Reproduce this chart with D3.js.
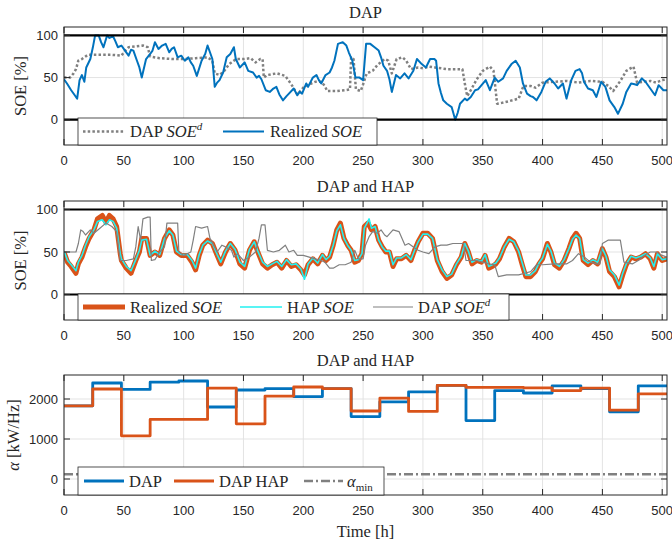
<!DOCTYPE html>
<html>
<head>
<meta charset="utf-8">
<script src="https://cdn.jsdelivr.net/npm/d3@7"></script>
<style>
  body { margin: 0; background: #fff; }
  svg { display: block; }
  .tick-lbl { font-family: "Liberation Sans", Arial, sans-serif; font-size: 13px; fill: #262626; }
  .serif { font-family: "Liberation Serif", "DejaVu Serif", serif; fill: #262626; }
</style>
</head>
<body>
<svg id="chart" width="672" height="542"></svg>
<script>
// hours axis
var xMax = 504;
var xTicks = [0, 50, 100, 150, 200, 250, 300, 350, 400, 450, 500];

// --- panel 1: DAP only, [hour, SOE %]
var dapRealized = [[0,48],[2.5,43],[6,35],[9,29],[11,25],[13,47],[15,53],[17,45],[18.6,62],[22,72],[24,85],[26,100],[29,100],[31,92],[33,86],[36,100],[38,97],[41,99],[43,93],[45,86],[48,88],[51,82],[54,76],[56,83],[58,82],[61,70],[63,62],[65,50],[68.6,72],[72,78],[74,82],[76,92],[79,84],[82,88],[85,90],[88,80],[90,84],[92,86],[95,74],[98,76],[101,70],[104,74],[106,68],[108,64],[111,52],[115,70],[118,78],[120,88],[122,80],[124,72],[126,39],[128,44],[130,47],[133,56],[136,74],[139,78],[142,86],[143.6,72],[147,62],[151,68],[154,58],[158,56],[161,50],[163,52],[165,48],[168.6,35],[172,33],[175,37],[177.5,39],[180,30],[183,23],[186,28],[188,31],[192,37],[195,29],[197,33],[199,31],[202.5,43],[204,39],[208,50],[211,53],[213,47],[215,43],[218.6,53],[222,56],[224,62],[226,70],[229,90],[233,92],[236,88],[238,80],[241,70],[243.6,50],[247,50],[250,47],[252.5,90],[256,90],[259.6,86],[263,82],[265,74],[267,64],[270,58],[272,48],[274,33],[277.5,53],[281,49],[284.6,55],[288,49],[292,58],[295,72],[299,66],[302.5,62],[306,72],[309.6,72],[311,70],[313,43],[315,32],[317,23],[320,19],[324,15],[327,0],[329,8],[331,19],[335,25],[337,23],[340,27],[343.6,35],[346,36],[349,41],[352.5,47],[356,35],[360,50],[363,45],[367,49],[370,58],[374,66],[377.5,70],[381,62],[383.6,43],[387,31],[390,28],[392,27],[395,23],[399,33],[402.5,45],[406,49],[410,43],[413,37],[417,43],[420,25],[424,47],[427.5,58],[431,60],[433,55],[434.6,45],[438,37],[442,35],[445,27],[449,45],[452.5,39],[456,23],[460,15],[463,7],[467,19],[470,33],[474,43],[477,42],[479,41],[483,49],[486,45],[490,37],[494,29],[497,41],[501,35],[504,35]];

var dapSchedule = [[0,50],[5,50],[8,55],[10,60],[12,70],[15,72],[18,75],[20,77],[30,77],[40,77],[48,76],[50,80],[54,86],[60,87],[66,88],[70,86],[72,75],[80,73],[90,72],[100,72],[110,73],[120,74],[124,70],[126,55],[130,53],[134,58],[138,66],[140,68],[144,72],[150,72],[156,73],[160,68],[164,72],[166,72],[167,50],[170,53],[178,55],[185,52],[190,42],[195,30],[200,38],[205,42],[210,45],[215,45],[218,40],[220,34],[228,34],[235,35],[239,36],[240,74],[242,72],[244,36],[248,34],[250,42],[253,55],[258,58],[262,65],[268,72],[271,70],[274,55],[278,72],[283,74],[286,70],[290,60],[296,62],[300,61],[305,63],[310,62],[320,60],[330,60],[333,60],[335,43],[337,28],[340,35],[345,48],[350,58],[356,63],[359,58],[362,19],[366,20],[372,22],[380,25],[384,40],[390,40],[394,38],[400,44],[410,45],[420,46],[430,44],[440,46],[450,45],[455,40],[459,34],[465,46],[470,58],[476,63],[479,44],[485,45],[490,46],[495,44],[500,47],[504,48]];

// --- panel 2: DAP and HAP, [hour, SOE %]
var hapRealized = [[0,50],[3,38],[6,33],[10,25],[12,36],[15,44],[18,56],[21,66],[25,76],[28,89],[32,93],[35,85],[38,93],[41,89],[44,80],[47,48],[48,40],[52,31],[56,25],[60,40],[63,50],[65,66],[69,66],[72,46],[76,50],[80,46],[84,66],[88,76],[91,70],[94,50],[98,46],[103,46],[107,38],[110,29],[113,46],[116,58],[120,64],[124,60],[128,46],[131,36],[135,50],[139,60],[143,52],[147,36],[151,31],[155,52],[159,62],[162,50],[166,36],[170,31],[174,35],[178,38],[182,31],[186,40],[190,33],[194,35],[198,29],[201,23],[204,35],[208,42],[212,36],[216,46],[219,40],[222,44],[225,58],[228,76],[231,84],[234,66],[237,58],[240,52],[243,38],[246,40],[249,48],[251,80],[254,84],[257,76],[260,80],[263,64],[266,56],[269,50],[272,50],[275,33],[278,42],[282,42],[286,46],[290,40],[293,52],[296,62],[300,72],[304,72],[308,66],[312,40],[316,27],[320,19],[324,23],[328,35],[332,44],[335,60],[338,50],[341,36],[345,40],[349,38],[352,46],[355,31],[358,33],[361,36],[364,42],[368,56],[372,66],[376,62],[380,50],[383,35],[386,21],[390,21],[394,27],[397,36],[400,42],[404,60],[407,50],[410,35],[414,31],[418,40],[422,54],[425,66],[428,72],[431,66],[434,40],[438,35],[442,40],[446,36],[450,54],[453,44],[456,27],[460,21],[464,9],[467,23],[470,35],[474,44],[478,42],[482,44],[486,48],[490,42],[493,31],[496,48],[500,40],[504,42]];

var hapPlanned = [[0,51],[3,40],[6,35],[10,28],[12,38],[15,46],[18,58],[21,68],[25,76],[28,86],[32,88],[35,82],[38,88],[41,86],[44,78],[47,48],[48,42],[52,33],[56,28],[60,41],[63,52],[65,64],[69,65],[72,46],[76,51],[80,47],[84,66],[88,75],[91,70],[94,51],[98,47],[103,47],[107,40],[110,31],[113,47],[116,58],[120,63],[124,60],[128,47],[131,38],[135,51],[139,60],[143,53],[147,38],[151,33],[155,53],[159,62],[162,51],[166,38],[170,33],[174,36],[178,39],[182,33],[186,41],[190,35],[194,36],[198,30],[201,18],[204,36],[208,43],[212,37],[216,47],[219,41],[222,45],[225,58],[228,75],[231,82],[234,66],[237,58],[240,52],[243,40],[246,41],[249,48],[251,78],[254,86],[255,89],[257,78],[260,80],[263,64],[266,56],[269,51],[272,51],[275,35],[278,43],[282,43],[286,47],[290,41],[293,52],[296,62],[300,71],[304,71],[308,66],[312,41],[316,29],[320,21],[324,24],[328,36],[332,45],[335,60],[338,51],[341,38],[345,41],[349,39],[352,47],[355,33],[358,35],[361,37],[364,43],[368,56],[372,65],[376,62],[380,51],[383,37],[386,23],[390,23],[394,28],[397,37],[400,43],[404,59],[407,51],[410,37],[414,33],[418,41],[422,54],[425,65],[428,70],[431,66],[434,41],[438,37],[442,41],[446,38],[450,54],[453,45],[456,29],[460,23],[464,11],[467,25],[470,36],[474,45],[478,43],[482,45],[486,48],[490,43],[493,33],[496,48],[500,41],[504,42]];

var hapSchedule = [[0,50],[10,50],[12,60],[14,76],[16,74],[18,70],[22,76],[25,72],[30,78],[35,84],[40,80],[44,74],[47,40],[52,40],[58,42],[60,56],[62,80],[64,64],[66,89],[70,91],[72,91],[73,40],[76,41],[80,50],[84,56],[86,84],[95,84],[96,50],[100,46],[106,50],[108,64],[110,80],[115,78],[120,80],[122,66],[128,50],[132,58],[135,56],[140,52],[142,44],[145,48],[150,40],[155,44],[160,50],[163,66],[165,82],[168,82],[170,52],[175,50],[180,52],[185,58],[188,50],[192,52],[195,46],[200,46],[205,44],[210,42],[215,40],[218,38],[222,31],[225,31],[230,35],[235,35],[240,38],[243,52],[246,42],[250,42],[252,58],[255,68],[258,74],[262,72],[265,76],[268,70],[270,68],[275,76],[280,74],[285,58],[288,60],[292,56],[296,52],[300,50],[305,48],[310,56],[315,58],[320,58],[325,60],[330,60],[334,60],[336,40],[345,40],[350,38],[355,36],[360,35],[363,21],[370,23],[380,23],[385,25],[390,27],[395,35],[400,35],[410,36],[420,36],[425,40],[430,48],[435,44],[440,38],[445,36],[448,36],[450,60],[455,64],[465,64],[468,38],[475,36],[480,40],[485,46],[490,50],[495,50],[500,46],[504,44]];

// --- panel 3: droop coefficient per day [kW/Hz]
var dayStart = [0, 24, 48, 72, 96, 120, 144, 168, 192, 216, 240, 264, 288, 312, 336, 360, 384, 408, 432, 456, 480];
var alphaDap = [1830, 2400, 2240, 2420, 2450, 1800, 2225, 2260, 2060, 2260, 1560, 1930, 2180, 2340, 1460, 2210, 2150, 2330, 2260, 1680, 2330];
var alphaHap = [1830, 2250, 1080, 1490, 1490, 2270, 1380, 2070, 2300, 2260, 1700, 2020, 1690, 2340, 2290, 2290, 2280, 2210, 2270, 1720, 2130];
var alphaMin = 120;

var svg = d3.select("#chart");
var left = 64, right = 667;
var x = d3.scaleLinear().domain([0, xMax]).range([left, right]);

var blue = "#0072BD", orange = "#D95319", cyan = "#22F0F0", gray = "#808080", axisCol = "#262626";

var panels = [
  { top: 27, bottom: 145, domain: [-30, 110], ticks: [0, 50, 100], title: "DAP" },
  { top: 201, bottom: 320, domain: [-30, 110], ticks: [0, 50, 100], title: "DAP and HAP" },
  { top: 375, bottom: 495, domain: [-400, 2600], ticks: [0, 1000, 2000], title: "DAP and HAP" }
];

function drawPanel(p, i) {
  var y = d3.scaleLinear().domain(p.domain).range([p.bottom, p.top]);
  var g = svg.append("g");
  var clipId = "clip" + i;
  svg.append("clipPath").attr("id", clipId).append("rect")
    .attr("x", left).attr("y", p.top).attr("width", right - left).attr("height", p.bottom - p.top);

  // grid
  g.selectAll(".gx").data(xTicks).enter().append("line")
    .attr("x1", d => x(d)).attr("x2", d => x(d)).attr("y1", p.top).attr("y2", p.bottom)
    .attr("stroke", "#e3e3e3").attr("stroke-width", 1);
  g.selectAll(".gy").data(p.ticks).enter().append("line")
    .attr("x1", left).attr("x2", right).attr("y1", d => y(d)).attr("y2", d => y(d))
    .attr("stroke", "#e3e3e3").attr("stroke-width", 1);

  // tick labels
  g.selectAll(".xl").data(xTicks).enter().append("text")
    .attr("class", "tick-lbl").attr("x", d => x(d)).attr("y", p.bottom + 19.5)
    .attr("text-anchor", "middle").text(d => d);
  g.selectAll(".yl").data(p.ticks).enter().append("text")
    .attr("class", "tick-lbl").attr("x", left - 6).attr("y", d => y(d) + 4.5)
    .attr("text-anchor", "end").text(d => d);

  // title
  g.append("text").attr("class", "serif").attr("x", (left + right) / 2).attr("y", p.top - 9)
    .attr("text-anchor", "middle").attr("font-size", 16.5).text(p.title);

  p.y = y; p.g = g; p.clip = "url(#" + clipId + ")";
  return p;
}

function drawFrame(p) {
  var g = svg.append("g");
  var y = p.y;
  // inward ticks
  xTicks.forEach(function(t) {
    g.append("line").attr("x1", x(t)).attr("x2", x(t)).attr("y1", p.bottom).attr("y2", p.bottom - 6).attr("stroke", axisCol);
    g.append("line").attr("x1", x(t)).attr("x2", x(t)).attr("y1", p.top).attr("y2", p.top + 6).attr("stroke", axisCol);
  });
  p.ticks.forEach(function(t) {
    g.append("line").attr("x1", left).attr("x2", left + 6).attr("y1", y(t)).attr("y2", y(t)).attr("stroke", axisCol);
    g.append("line").attr("x1", right).attr("x2", right - 6).attr("y1", y(t)).attr("y2", y(t)).attr("stroke", axisCol);
  });
  g.append("rect").attr("x", left).attr("y", p.top).attr("width", right - left).attr("height", p.bottom - p.top)
    .attr("fill", "none").attr("stroke", axisCol).attr("stroke-width", 1);
}

function addLine(p, data, color, width, dash, curve) {
  var line = d3.line().x(d => x(d[0])).y(d => p.y(d[1]));
  if (curve) line.curve(curve);
  var path = p.g.append("path").datum(data).attr("d", line)
    .attr("fill", "none").attr("stroke", color).attr("stroke-width", width)
    .attr("stroke-linejoin", "round").attr("clip-path", p.clip);
  if (dash) path.attr("stroke-dasharray", dash);
  return path;
}

function hline(p, v) {
  p.g.append("line").attr("x1", left).attr("x2", right).attr("y1", p.y(v)).attr("y2", p.y(v))
    .attr("stroke", "#000").attr("stroke-width", 2.2);
}

// legend box with line samples and labels
function legend(p, x0, x1, y0, y1, items) {
  var g = svg.append("g");
  g.append("rect").attr("x", x0).attr("y", y0).attr("width", x1 - x0).attr("height", y1 - y0)
    .attr("fill", "#fff").attr("stroke", axisCol).attr("stroke-width", 0.8);
  var cy = (y0 + y1) / 2;
  items.forEach(function(it) {
    var ln = g.append("line").attr("x1", it.sx0).attr("x2", it.sx1).attr("y1", cy).attr("y2", cy)
      .attr("stroke", it.color).attr("stroke-width", it.width);
    if (it.dash) ln.attr("stroke-dasharray", it.dash);
    var t = g.append("text").attr("class", "serif").attr("x", it.tx).attr("y", cy + 5.5).attr("font-size", 16.5);
    it.label(t);
  });
}

function soeLabel(prefix, sup) {
  return function(t) {
    t.append("tspan").text(prefix);
    t.append("tspan").attr("font-style", "italic").text("SOE");
    if (sup) t.append("tspan").attr("font-style", "italic").attr("font-size", 11).attr("dy", -7).text(sup);
  };
}

var p1 = drawPanel(panels[0], 0);
var p2 = drawPanel(panels[1], 1);
var p3 = drawPanel(panels[2], 2);

// panel 1
addLine(p1, dapSchedule, gray, 2.5, "2.5,2.2");
addLine(p1, dapRealized, blue, 2);
hline(p1, 0); hline(p1, 100);
drawFrame(p1);
legend(p1, 78, 377, 118, 145, [
  { color: gray, width: 2.5, dash: "2.5,2.2", sx0: 83, sx1: 124, tx: 130, label: soeLabel("DAP ", "d") },
  { color: blue, width: 2, sx0: 223, sx1: 264, tx: 270, label: soeLabel("Realized ") }
]);

// panel 2
addLine(p2, hapRealized, orange, 5);
addLine(p2, hapPlanned, cyan, 1.6);
addLine(p2, hapSchedule, gray, 1.2);
hline(p2, 0); hline(p2, 100);
drawFrame(p2);
legend(p2, 78, 509, 294, 320, [
  { color: orange, width: 5, sx0: 83, sx1: 125, tx: 130, label: soeLabel("Realized ") },
  { color: cyan, width: 1.6, sx0: 240, sx1: 282, tx: 287, label: soeLabel("HAP ") },
  { color: gray, width: 1.2, sx0: 373, sx1: 413, tx: 418, label: soeLabel("DAP ", "d") }
]);

// panel 3
var dapSteps = dayStart.map((d, i) => [d, alphaDap[i]]).concat([[xMax, alphaDap[alphaDap.length - 1]]]);
var hapSteps = dayStart.map((d, i) => [d, alphaHap[i]]).concat([[xMax, alphaHap[alphaHap.length - 1]]]);
addLine(p3, [[0, alphaMin], [xMax, alphaMin]], gray, 2.5, "9,3,2,3");
addLine(p3, dapSteps, blue, 2.8, null, d3.curveStepAfter);
addLine(p3, hapSteps, orange, 2.8, null, d3.curveStepAfter);
drawFrame(p3);
legend(p3, 78, 384, 467, 495, [
  { color: blue, width: 2.8, sx0: 84, sx1: 124, tx: 129, label: function(t) { t.text("DAP"); } },
  { color: orange, width: 2.8, sx0: 174, sx1: 214, tx: 219, label: function(t) { t.text("DAP HAP"); } },
  { color: gray, width: 2.5, dash: "9,3,2,3", sx0: 304, sx1: 343, tx: 347, label: function(t) {
      t.append("tspan").attr("font-style", "italic").text("α");
      t.append("tspan").attr("font-size", 11).attr("dy", 4).text("min");
    } }
]);

// axis labels
function ylabel(p, cx, build) {
  var t = svg.append("text").attr("class", "serif").attr("font-size", 16.5).attr("text-anchor", "middle")
    .attr("transform", "translate(" + cx + "," + ((p.top + p.bottom) / 2) + ") rotate(-90)");
  build(t);
}
ylabel(p1, 26, t => t.text("SOE [%]"));
ylabel(p2, 26, t => t.text("SOE [%]"));
ylabel(p3, 19, function(t) {
  t.append("tspan").attr("font-style", "italic").text("α");
  t.append("tspan").text(" [kW/Hz]");
});
svg.append("text").attr("class", "serif").attr("font-size", 16.5).attr("text-anchor", "middle")
  .attr("x", (left + right) / 2).attr("y", 537).text("Time [h]");
</script>
</body>
</html>
